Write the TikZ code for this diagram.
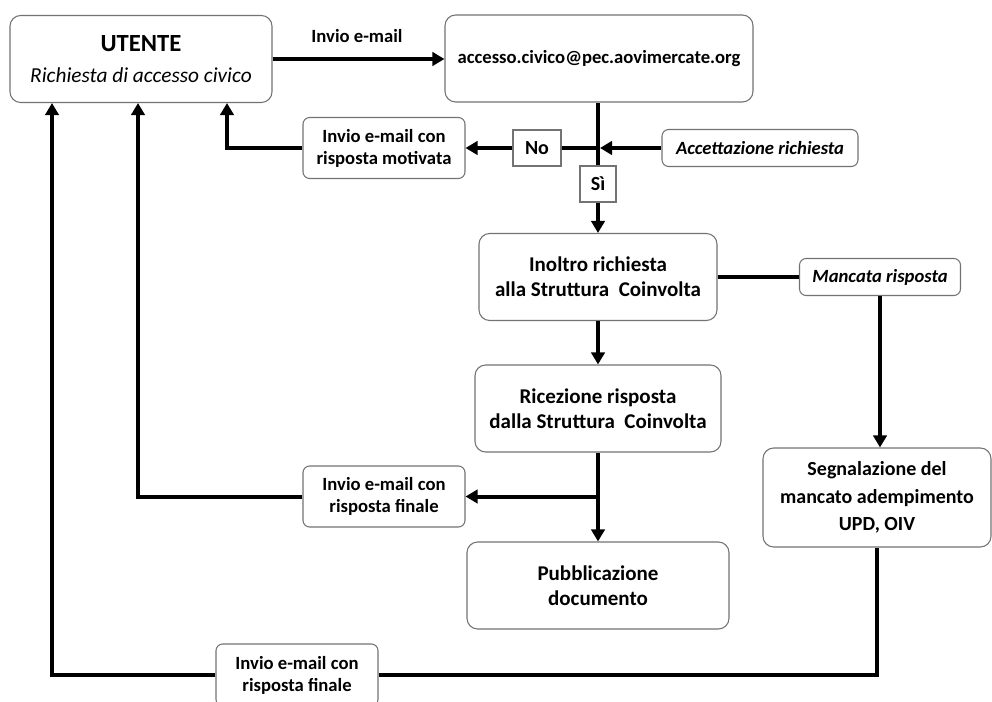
\documentclass[tikz,border=0pt]{standalone}
\usepackage{fontspec}
\setmainfont{Carlito}
\usetikzlibrary{arrows.meta}
\tikzset{every picture/.style={line width=0.75pt}}
\tikzset{
  box/.style={draw=black!55, line width=0.8pt, fill=white, rounded corners=8pt, align=center, inner sep=0pt,
    font=\bfseries\fontsize{15.75}{19}\selectfont},
  tag/.style={box, rounded corners=5pt, font=\bfseries\fontsize{14}{16.5}\selectfont},
  sq/.style={box, rounded corners=0pt, font=\bfseries\fontsize{15}{17}\selectfont},
  wire/.style={line width=3pt},
  flow/.style={line width=3pt, -{Triangle[length=9pt,width=10pt]}},
}

\begin{document}
\begin{tikzpicture}[x=0.75pt,y=0.75pt,yscale=-1,xscale=1]
\useasboundingbox (0,0) rectangle (992,702);

%Shape: Rounded Rectangle
\node[box, minimum width=196.5pt, minimum height=65.25pt] (utente) at (141,59)
  {{\fontsize{18.5}{22}\selectfont UTENTE}\\[4pt]{\mdseries\itshape\fontsize{16}{22}\selectfont Richiesta di accesso civico}};
%Shape: Rounded Rectangle
\node[box, minimum width=231pt, minimum height=65.25pt, font=\bfseries\fontsize{14}{17}\selectfont] (email) at (599,58.5) {accesso.civico@pec.aovimercate.org};
%Shape: Rounded Rectangle
\node[tag, minimum width=121.5pt, minimum height=45.75pt] (motiv) at (384,148) {Invio e-mail con\\risposta motivata};
%Shape: Rectangle
\node[sq, minimum width=36pt, minimum height=27pt] (no) at (537,148) {No};
%Shape: Rounded Rectangle
\node[tag, minimum width=147pt, minimum height=27.75pt, font=\bfseries\itshape\fontsize{14}{16}\selectfont] (acc) at (760,148) {Accettazione richiesta};
%Shape: Rectangle
\node[sq, minimum width=27pt, minimum height=27pt] (si) at (598,184) {Sì};
%Shape: Rounded Rectangle
\node[box, minimum width=178.5pt, minimum height=65.25pt] (inoltro) at (598,277) {Inoltro richiesta\\alla Struttura~ Coinvolta};
%Shape: Rounded Rectangle
\node[tag, minimum width=120.75pt, minimum height=27.75pt, font=\bfseries\itshape\fontsize{14}{16}\selectfont] (mancata) at (880,277) {Mancata risposta};
%Shape: Rounded Rectangle
\node[box, minimum width=184.5pt, minimum height=65.25pt] (ricez) at (598,408.5) {Ricezione risposta\\dalla Struttura~ Coinvolta};
%Shape: Rounded Rectangle
\node[tag, minimum width=121.5pt, minimum height=45.75pt] (fin1) at (384,496.5) {Invio e-mail con\\risposta finale};
%Shape: Rounded Rectangle
\node[box, minimum width=196.5pt, minimum height=65.25pt] (pubbl) at (598,585.5) {Pubblicazione\\documento};
%Shape: Rounded Rectangle
\node[box, minimum width=171pt, minimum height=74.25pt, font=\bfseries\fontsize{15}{20.5}\selectfont] (segn) at (877,497.5) {Segnalazione del\\mancato adempimento\\UPD, OIV};
%Shape: Rounded Rectangle
\node[tag, minimum width=121.5pt, minimum height=46.5pt] (fin2) at (297,675) {Invio e-mail con\\risposta finale};

% Text Node
\node[font=\bfseries\fontsize{14}{16}\selectfont] (invio) at (357,36) {Invio e-mail};

% junctions and return lines
\coordinate (jn) at (598,148);
\coordinate (jn2) at (598,496.5);
\coordinate (r1) at (227,0);
\coordinate (r2) at (138,0);
\coordinate (r3) at (52,0);

%Straight Lines
\draw[flow] (utente.east) -- (email.west |- utente.east);
\draw[wire] (email.south -| jn) -- (si.north);
\draw[flow, shorten >=1.5pt] (acc.west) -- (jn);
\draw[wire] (jn) -- (no.east);
\draw[flow] (no.west) -- (motiv.east);
\draw[flow] (motiv.west) -| (r1 |- utente.south);
\draw[flow] (si.south) -- (inoltro.north);
\draw[wire] (inoltro.east) -- (mancata.west);
\draw[flow] (mancata.south) -- (mancata.south |- segn.north);
\draw[flow] (inoltro.south) -- (ricez.north);
\draw[flow] (ricez.south) -- (pubbl.north);
\draw[flow] (jn2) -- (fin1.east);
\draw[flow] (fin1.west) -| (r2 |- utente.south);
\draw[wire] (segn.south) |- (fin2.east);
\draw[flow] (fin2.west) -| (r3 |- utente.south);

\end{tikzpicture}
\end{document}
